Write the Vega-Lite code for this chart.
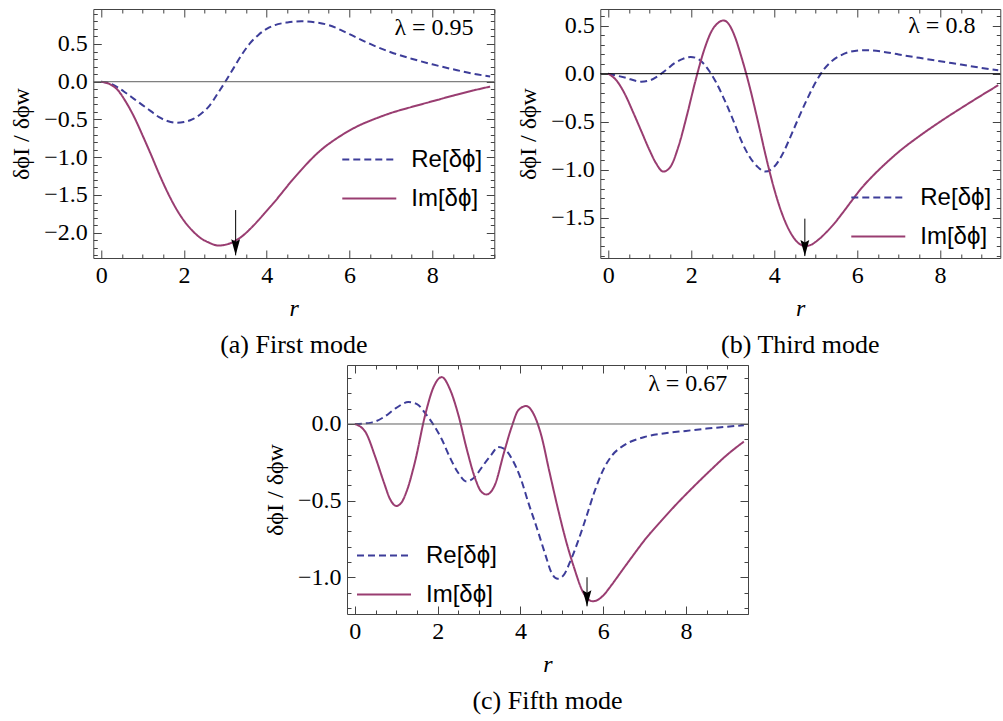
{
"$schema": "https://vega.github.io/schema/vega-lite/v6.json",
"padding": {"left": 9, "top": 1, "right": 0, "bottom": 5},
"config": {
  "font": "Liberation Serif",
  "view": {"stroke": "#444", "strokeWidth": 1},
  "axis": {"domain": false, "grid": false, "tickColor": "#444", "tickWidth": 1, "labelFont": "Liberation Serif", "labelFontSize": 24, "labelColor": "black", "titleFont": "Liberation Serif", "titleFontSize": 24, "titleFontWeight": "normal", "titleColor": "black", "labelOverlap": false, "labelFlush": false},
  "title": {"font": "Liberation Serif", "fontSize": 26, "fontWeight": "normal", "color": "black", "orient": "bottom", "anchor": "middle", "offset": 12},
  "legend": {"orient": "none", "title": null, "symbolType": "stroke", "symbolSize": 2916, "symbolStrokeWidth": 2, "labelFont": "Liberation Sans", "labelFontSize": 24, "labelColor": "black", "labelOffset": 14, "clipHeight": 39, "rowPadding": 0, "padding": 0}
},
"datasets": {
  "a": [
    {"r":0,"v":0,"s":"Re[δϕ]"},{"r":0.2,"v":-0.02,"s":"Re[δϕ]"},{"r":0.4,"v":-0.075,"s":"Re[δϕ]"},{"r":0.6,"v":-0.15,"s":"Re[δϕ]"},{"r":0.8,"v":-0.23,"s":"Re[δϕ]"},{"r":1.0,"v":-0.31,"s":"Re[δϕ]"},{"r":1.2,"v":-0.39,"s":"Re[δϕ]"},{"r":1.4,"v":-0.47,"s":"Re[δϕ]"},{"r":1.6,"v":-0.52,"s":"Re[δϕ]"},{"r":1.82,"v":-0.545,"s":"Re[δϕ]"},{"r":2.0,"v":-0.535,"s":"Re[δϕ]"},{"r":2.2,"v":-0.5,"s":"Re[δϕ]"},{"r":2.4,"v":-0.43,"s":"Re[δϕ]"},{"r":2.6,"v":-0.33,"s":"Re[δϕ]"},{"r":2.8,"v":-0.17,"s":"Re[δϕ]"},{"r":3.0,"v":0.0,"s":"Re[δϕ]"},{"r":3.2,"v":0.18,"s":"Re[δϕ]"},{"r":3.4,"v":0.36,"s":"Re[δϕ]"},{"r":3.6,"v":0.51,"s":"Re[δϕ]"},{"r":3.8,"v":0.62,"s":"Re[δϕ]"},{"r":4.0,"v":0.70,"s":"Re[δϕ]"},{"r":4.2,"v":0.75,"s":"Re[δϕ]"},{"r":4.5,"v":0.785,"s":"Re[δϕ]"},{"r":4.84,"v":0.8,"s":"Re[δϕ]"},{"r":5.2,"v":0.785,"s":"Re[δϕ]"},{"r":5.5,"v":0.75,"s":"Re[δϕ]"},{"r":6.0,"v":0.63,"s":"Re[δϕ]"},{"r":6.5,"v":0.5,"s":"Re[δϕ]"},{"r":7.0,"v":0.39,"s":"Re[δϕ]"},{"r":7.5,"v":0.305,"s":"Re[δϕ]"},{"r":8.0,"v":0.23,"s":"Re[δϕ]"},{"r":8.5,"v":0.165,"s":"Re[δϕ]"},{"r":9.0,"v":0.105,"s":"Re[δϕ]"},{"r":9.4,"v":0.07,"s":"Re[δϕ]"},
    {"r":0,"v":0,"s":"Im[δϕ]"},{"r":0.2,"v":-0.03,"s":"Im[δϕ]"},{"r":0.4,"v":-0.11,"s":"Im[δϕ]"},{"r":0.6,"v":-0.27,"s":"Im[δϕ]"},{"r":0.8,"v":-0.47,"s":"Im[δϕ]"},{"r":1.0,"v":-0.71,"s":"Im[δϕ]"},{"r":1.2,"v":-0.96,"s":"Im[δϕ]"},{"r":1.4,"v":-1.22,"s":"Im[δϕ]"},{"r":1.6,"v":-1.46,"s":"Im[δϕ]"},{"r":1.8,"v":-1.67,"s":"Im[δϕ]"},{"r":2.0,"v":-1.84,"s":"Im[δϕ]"},{"r":2.2,"v":-1.97,"s":"Im[δϕ]"},{"r":2.4,"v":-2.07,"s":"Im[δϕ]"},{"r":2.6,"v":-2.13,"s":"Im[δϕ]"},{"r":2.83,"v":-2.17,"s":"Im[δϕ]"},{"r":3.0,"v":-2.16,"s":"Im[δϕ]"},{"r":3.2,"v":-2.12,"s":"Im[δϕ]"},{"r":3.4,"v":-2.05,"s":"Im[δϕ]"},{"r":3.6,"v":-1.95,"s":"Im[δϕ]"},{"r":3.8,"v":-1.835,"s":"Im[δϕ]"},{"r":4.0,"v":-1.71,"s":"Im[δϕ]"},{"r":4.2,"v":-1.585,"s":"Im[δϕ]"},{"r":4.4,"v":-1.45,"s":"Im[δϕ]"},{"r":4.6,"v":-1.315,"s":"Im[δϕ]"},{"r":4.8,"v":-1.19,"s":"Im[δϕ]"},{"r":5.0,"v":-1.07,"s":"Im[δϕ]"},{"r":5.2,"v":-0.96,"s":"Im[δϕ]"},{"r":5.4,"v":-0.865,"s":"Im[δϕ]"},{"r":5.6,"v":-0.785,"s":"Im[δϕ]"},{"r":5.85,"v":-0.695,"s":"Im[δϕ]"},{"r":6.25,"v":-0.575,"s":"Im[δϕ]"},{"r":6.6,"v":-0.495,"s":"Im[δϕ]"},{"r":7.0,"v":-0.415,"s":"Im[δϕ]"},{"r":7.5,"v":-0.335,"s":"Im[δϕ]"},{"r":8.0,"v":-0.26,"s":"Im[δϕ]"},{"r":8.5,"v":-0.185,"s":"Im[δϕ]"},{"r":9.0,"v":-0.115,"s":"Im[δϕ]"},{"r":9.4,"v":-0.065,"s":"Im[δϕ]"}
  ],
  "b": [
    {"r":0,"v":0,"s":"Re[δϕ]"},{"r":0.4,"v":-0.04,"s":"Re[δϕ]"},{"r":0.8,"v":-0.083,"s":"Re[δϕ]"},{"r":1.0,"v":-0.07,"s":"Re[δϕ]"},{"r":1.2,"v":-0.025,"s":"Re[δϕ]"},{"r":1.4,"v":0.04,"s":"Re[δϕ]"},{"r":1.6,"v":0.11,"s":"Re[δϕ]"},{"r":1.8,"v":0.155,"s":"Re[δϕ]"},{"r":1.99,"v":0.175,"s":"Re[δϕ]"},{"r":2.2,"v":0.145,"s":"Re[δϕ]"},{"r":2.4,"v":0.05,"s":"Re[δϕ]"},{"r":2.6,"v":-0.09,"s":"Re[δϕ]"},{"r":2.8,"v":-0.27,"s":"Re[δϕ]"},{"r":3.0,"v":-0.47,"s":"Re[δϕ]"},{"r":3.2,"v":-0.69,"s":"Re[δϕ]"},{"r":3.4,"v":-0.86,"s":"Re[δϕ]"},{"r":3.6,"v":-0.97,"s":"Re[δϕ]"},{"r":3.78,"v":-1.02,"s":"Re[δϕ]"},{"r":4.0,"v":-0.97,"s":"Re[δϕ]"},{"r":4.2,"v":-0.84,"s":"Re[δϕ]"},{"r":4.4,"v":-0.65,"s":"Re[δϕ]"},{"r":4.6,"v":-0.45,"s":"Re[δϕ]"},{"r":4.8,"v":-0.26,"s":"Re[δϕ]"},{"r":5.0,"v":-0.09,"s":"Re[δϕ]"},{"r":5.2,"v":0.045,"s":"Re[δϕ]"},{"r":5.4,"v":0.135,"s":"Re[δϕ]"},{"r":5.6,"v":0.19,"s":"Re[δϕ]"},{"r":5.8,"v":0.225,"s":"Re[δϕ]"},{"r":6.2,"v":0.245,"s":"Re[δϕ]"},{"r":6.6,"v":0.23,"s":"Re[δϕ]"},{"r":7.0,"v":0.2,"s":"Re[δϕ]"},{"r":7.5,"v":0.165,"s":"Re[δϕ]"},{"r":8.0,"v":0.13,"s":"Re[δϕ]"},{"r":8.5,"v":0.095,"s":"Re[δϕ]"},{"r":9.0,"v":0.06,"s":"Re[δϕ]"},{"r":9.4,"v":0.035,"s":"Re[δϕ]"},
    {"r":0,"v":0,"s":"Im[δϕ]"},{"r":0.2,"v":-0.07,"s":"Im[δϕ]"},{"r":0.4,"v":-0.21,"s":"Im[δϕ]"},{"r":0.6,"v":-0.4,"s":"Im[δϕ]"},{"r":0.8,"v":-0.6,"s":"Im[δϕ]"},{"r":1.0,"v":-0.8,"s":"Im[δϕ]"},{"r":1.15,"v":-0.93,"s":"Im[δϕ]"},{"r":1.33,"v":-1.02,"s":"Im[δϕ]"},{"r":1.5,"v":-0.97,"s":"Im[δϕ]"},{"r":1.7,"v":-0.75,"s":"Im[δϕ]"},{"r":1.9,"v":-0.43,"s":"Im[δϕ]"},{"r":2.1,"v":-0.08,"s":"Im[δϕ]"},{"r":2.3,"v":0.23,"s":"Im[δϕ]"},{"r":2.5,"v":0.45,"s":"Im[δϕ]"},{"r":2.65,"v":0.53,"s":"Im[δϕ]"},{"r":2.78,"v":0.555,"s":"Im[δϕ]"},{"r":2.9,"v":0.52,"s":"Im[δϕ]"},{"r":3.05,"v":0.39,"s":"Im[δϕ]"},{"r":3.2,"v":0.19,"s":"Im[δϕ]"},{"r":3.4,"v":-0.12,"s":"Im[δϕ]"},{"r":3.6,"v":-0.48,"s":"Im[δϕ]"},{"r":3.8,"v":-0.86,"s":"Im[δϕ]"},{"r":4.0,"v":-1.2,"s":"Im[δϕ]"},{"r":4.2,"v":-1.47,"s":"Im[δϕ]"},{"r":4.4,"v":-1.66,"s":"Im[δϕ]"},{"r":4.6,"v":-1.77,"s":"Im[δϕ]"},{"r":4.76,"v":-1.795,"s":"Im[δϕ]"},{"r":4.9,"v":-1.78,"s":"Im[δϕ]"},{"r":5.05,"v":-1.735,"s":"Im[δϕ]"},{"r":5.25,"v":-1.655,"s":"Im[δϕ]"},{"r":5.45,"v":-1.56,"s":"Im[δϕ]"},{"r":5.65,"v":-1.45,"s":"Im[δϕ]"},{"r":5.85,"v":-1.335,"s":"Im[δϕ]"},{"r":6.1,"v":-1.195,"s":"Im[δϕ]"},{"r":6.4,"v":-1.055,"s":"Im[δϕ]"},{"r":6.7,"v":-0.93,"s":"Im[δϕ]"},{"r":7.0,"v":-0.815,"s":"Im[δϕ]"},{"r":7.5,"v":-0.65,"s":"Im[δϕ]"},{"r":8.0,"v":-0.5,"s":"Im[δϕ]"},{"r":8.5,"v":-0.36,"s":"Im[δϕ]"},{"r":9.0,"v":-0.225,"s":"Im[δϕ]"},{"r":9.4,"v":-0.12,"s":"Im[δϕ]"}
  ],
  "c": [
    {"r":0,"v":0,"s":"Re[δϕ]"},{"r":0.4,"v":0.009,"s":"Re[δϕ]"},{"r":0.7,"v":0.045,"s":"Re[δϕ]"},{"r":1.0,"v":0.105,"s":"Re[δϕ]"},{"r":1.29,"v":0.143,"s":"Re[δϕ]"},{"r":1.5,"v":0.13,"s":"Re[δϕ]"},{"r":1.7,"v":0.07,"s":"Re[δϕ]"},{"r":1.9,"v":-0.005,"s":"Re[δϕ]"},{"r":2.1,"v":-0.1,"s":"Re[δϕ]"},{"r":2.3,"v":-0.22,"s":"Re[δϕ]"},{"r":2.5,"v":-0.32,"s":"Re[δϕ]"},{"r":2.7,"v":-0.375,"s":"Re[δϕ]"},{"r":2.9,"v":-0.345,"s":"Re[δϕ]"},{"r":3.1,"v":-0.27,"s":"Re[δϕ]"},{"r":3.3,"v":-0.2,"s":"Re[δϕ]"},{"r":3.46,"v":-0.15,"s":"Re[δϕ]"},{"r":3.6,"v":-0.16,"s":"Re[δϕ]"},{"r":3.8,"v":-0.23,"s":"Re[δϕ]"},{"r":4.0,"v":-0.35,"s":"Re[δϕ]"},{"r":4.2,"v":-0.52,"s":"Re[δϕ]"},{"r":4.4,"v":-0.68,"s":"Re[δϕ]"},{"r":4.6,"v":-0.85,"s":"Re[δϕ]"},{"r":4.75,"v":-0.97,"s":"Re[δϕ]"},{"r":4.9,"v":-1.01,"s":"Re[δϕ]"},{"r":5.05,"v":-0.985,"s":"Re[δϕ]"},{"r":5.2,"v":-0.9,"s":"Re[δϕ]"},{"r":5.4,"v":-0.76,"s":"Re[δϕ]"},{"r":5.6,"v":-0.6,"s":"Re[δϕ]"},{"r":5.8,"v":-0.435,"s":"Re[δϕ]"},{"r":6.0,"v":-0.3,"s":"Re[δϕ]"},{"r":6.2,"v":-0.21,"s":"Re[δϕ]"},{"r":6.5,"v":-0.14,"s":"Re[δϕ]"},{"r":7.0,"v":-0.085,"s":"Re[δϕ]"},{"r":7.5,"v":-0.06,"s":"Re[δϕ]"},{"r":8.0,"v":-0.045,"s":"Re[δϕ]"},{"r":8.5,"v":-0.03,"s":"Re[δϕ]"},{"r":9.0,"v":-0.018,"s":"Re[δϕ]"},{"r":9.4,"v":-0.008,"s":"Re[δϕ]"},
    {"r":0,"v":0,"s":"Im[δϕ]"},{"r":0.25,"v":-0.05,"s":"Im[δϕ]"},{"r":0.5,"v":-0.22,"s":"Im[δϕ]"},{"r":0.7,"v":-0.38,"s":"Im[δϕ]"},{"r":0.85,"v":-0.49,"s":"Im[δϕ]"},{"r":1.0,"v":-0.535,"s":"Im[δϕ]"},{"r":1.12,"v":-0.515,"s":"Im[δϕ]"},{"r":1.25,"v":-0.44,"s":"Im[δϕ]"},{"r":1.45,"v":-0.25,"s":"Im[δϕ]"},{"r":1.7,"v":0.06,"s":"Im[δϕ]"},{"r":1.9,"v":0.24,"s":"Im[δϕ]"},{"r":2.1,"v":0.306,"s":"Im[δϕ]"},{"r":2.3,"v":0.225,"s":"Im[δϕ]"},{"r":2.5,"v":0.06,"s":"Im[δϕ]"},{"r":2.7,"v":-0.16,"s":"Im[δϕ]"},{"r":2.9,"v":-0.35,"s":"Im[δϕ]"},{"r":3.05,"v":-0.44,"s":"Im[δϕ]"},{"r":3.18,"v":-0.46,"s":"Im[δϕ]"},{"r":3.38,"v":-0.4,"s":"Im[δϕ]"},{"r":3.6,"v":-0.19,"s":"Im[δϕ]"},{"r":3.8,"v":-0.01,"s":"Im[δϕ]"},{"r":3.95,"v":0.09,"s":"Im[δϕ]"},{"r":4.14,"v":0.117,"s":"Im[δϕ]"},{"r":4.3,"v":0.075,"s":"Im[δϕ]"},{"r":4.5,"v":-0.07,"s":"Im[δϕ]"},{"r":4.7,"v":-0.31,"s":"Im[δϕ]"},{"r":4.9,"v":-0.545,"s":"Im[δϕ]"},{"r":5.1,"v":-0.76,"s":"Im[δϕ]"},{"r":5.3,"v":-0.94,"s":"Im[δϕ]"},{"r":5.5,"v":-1.09,"s":"Im[δϕ]"},{"r":5.75,"v":-1.157,"s":"Im[δϕ]"},{"r":6.0,"v":-1.12,"s":"Im[δϕ]"},{"r":6.15,"v":-1.07,"s":"Im[δϕ]"},{"r":6.3,"v":-1.015,"s":"Im[δϕ]"},{"r":6.5,"v":-0.94,"s":"Im[δϕ]"},{"r":6.75,"v":-0.848,"s":"Im[δϕ]"},{"r":7.0,"v":-0.758,"s":"Im[δϕ]"},{"r":7.4,"v":-0.633,"s":"Im[δϕ]"},{"r":7.8,"v":-0.515,"s":"Im[δϕ]"},{"r":8.2,"v":-0.405,"s":"Im[δϕ]"},{"r":8.6,"v":-0.3,"s":"Im[δϕ]"},{"r":9.0,"v":-0.2,"s":"Im[δϕ]"},{"r":9.4,"v":-0.115,"s":"Im[δϕ]"}
  ]
},
"vconcat": [
 {"hconcat": [
  {
   "width": 401, "height": 249,
   "title": {"text": "(a) First mode"},
   "layer": [
    {"data": {"name": "a"},
     "mark": {"type": "line", "strokeWidth": 2, "interpolate": "monotone"},
     "encoding": {
      "x": {"field": "r", "type": "quantitative", "scale": {"domain": [-0.19, 9.5], "nice": false, "zero": false},
            "axis": {"orient": "bottom", "title": "r", "titleFontStyle": "italic", "titlePadding": 5, "values": [0,0.5,1,1.5,2,2.5,3,3.5,4,4.5,5,5.5,6,6.5,7,7.5,8,8.5,9,9.5], "labelExpr": "datum.value % 2 === 0 ? format(datum.value, 'd') : ''", "tickSize": {"condition": {"test": "datum.value % 2 === 0", "value": -8}, "value": -4}, "labelPadding": 13}},
      "y": {"field": "v", "type": "quantitative", "scale": {"domain": [-2.335, 0.963], "nice": false, "zero": false},
            "axis": {"orient": "left", "title": "δϕI / δϕw", "titlePadding": 10, "values": [-2.3,-2.2,-2.1,-2,-1.9,-1.8,-1.7,-1.6,-1.5,-1.4,-1.3,-1.2,-1.1,-1,-0.9,-0.8,-0.7,-0.6,-0.5,-0.4,-0.3,-0.2,-0.1,0,0.1,0.2,0.3,0.4,0.5,0.6,0.7,0.8,0.9], "format": ".1f", "labelExpr": "abs(round(datum.value*10)) % 5 === 0 ? datum.label : ''", "tickSize": {"condition": {"test": "abs(round(datum.value*10)) % 5 === 0", "value": -8}, "value": -4}, "labelPadding": 14}},
      "color": {"field": "s", "type": "nominal", "scale": {"domain": ["Re[δϕ]", "Im[δϕ]"], "range": ["#3d3d99", "#993d71"]}, "legend": {"legendX": 248, "legendY": 131}},
      "strokeDash": {"field": "s", "type": "nominal", "scale": {"domain": ["Re[δϕ]", "Im[δϕ]"], "range": [[7, 4], [1, 0]]}, "legend": {"legendX": 248, "legendY": 131}}
     }},
    {"data": {"values": [{"v": 0}]},
     "mark": {"type": "rule", "color": "#606060", "strokeWidth": 1},
     "encoding": {"y": {"field": "v", "type": "quantitative", "scale": {"domain": [-2.335, 0.963], "nice": false, "zero": false},
        "axis": {"orient": "right", "title": null, "labels": false, "values": [-2.3,-2.2,-2.1,-2,-1.9,-1.8,-1.7,-1.6,-1.5,-1.4,-1.3,-1.2,-1.1,-1,-0.9,-0.8,-0.7,-0.6,-0.5,-0.4,-0.3,-0.2,-0.1,0,0.1,0.2,0.3,0.4,0.5,0.6,0.7,0.8,0.9], "tickSize": {"condition": {"test": "abs(round(datum.value*10)) % 5 === 0", "value": -8}, "value": -4}}}}},
    {"data": {"values": [{"r": 3.25, "y1": -1.7, "y2": -2.3}]},
     "mark": {"type": "rule", "color": "black", "strokeWidth": 1},
     "encoding": {
      "x": {"field": "r", "type": "quantitative", "scale": {"domain": [-0.19, 9.5], "nice": false, "zero": false},
            "axis": {"orient": "top", "title": null, "labels": false, "values": [0,0.5,1,1.5,2,2.5,3,3.5,4,4.5,5,5.5,6,6.5,7,7.5,8,8.5,9,9.5], "tickSize": {"condition": {"test": "datum.value % 2 === 0", "value": -8}, "value": -4}}},
      "y": {"field": "y1", "type": "quantitative", "scale": {"domain": [-2.335, 0.963], "nice": false, "zero": false}, "axis": null},
      "y2": {"field": "y2"}
     }},
    {"data": {"values": [{"r": 3.25, "y2": -2.3}]},
     "mark": {"type": "point", "shape": "M0,1L-0.55,-1L0,-0.7L0.55,-1Z", "size": 256, "filled": true, "color": "black", "opacity": 1, "yOffset": -8},
     "encoding": {
      "x": {"field": "r", "type": "quantitative", "scale": {"domain": [-0.19, 9.5], "nice": false, "zero": false}, "axis": null},
      "y": {"field": "y2", "type": "quantitative", "scale": {"domain": [-2.335, 0.963], "nice": false, "zero": false}, "axis": null}
     }},
    {"data": {"values": [{"r": 9.0, "v": 0.62, "t": "λ = 0.95"}]},
     "mark": {"type": "text", "align": "right", "baseline": "alphabetic", "font": "Liberation Serif", "fontSize": 24, "color": "black"},
     "encoding": {
      "x": {"field": "r", "type": "quantitative", "scale": {"domain": [-0.19, 9.5], "nice": false, "zero": false}, "axis": null},
      "y": {"field": "v", "type": "quantitative", "scale": {"domain": [-2.335, 0.963], "nice": false, "zero": false}, "axis": null},
      "text": {"field": "t"}
     }}
   ],
   "resolve": {"axis": {"x": "independent", "y": "independent"}}
  },
  {
   "width": 400, "height": 249,
   "title": {"text": "(b) Third mode"},
   "layer": [
    {"data": {"name": "b"},
     "mark": {"type": "line", "strokeWidth": 2, "interpolate": "monotone"},
     "encoding": {
      "x": {"field": "r", "type": "quantitative", "scale": {"domain": [-0.19, 9.45], "nice": false, "zero": false},
            "axis": {"orient": "bottom", "title": "r", "titleFontStyle": "italic", "titlePadding": 5, "values": [0,0.5,1,1.5,2,2.5,3,3.5,4,4.5,5,5.5,6,6.5,7,7.5,8,8.5,9], "labelExpr": "datum.value % 2 === 0 ? format(datum.value, 'd') : ''", "tickSize": {"condition": {"test": "datum.value % 2 === 0", "value": -8}, "value": -4}, "labelPadding": 13}},
      "y": {"field": "v", "type": "quantitative", "scale": {"domain": [-1.92, 0.674], "nice": false, "zero": false},
            "axis": {"orient": "left", "title": "δϕI / δϕw", "titlePadding": 10, "values": [-1.9,-1.8,-1.7,-1.6,-1.5,-1.4,-1.3,-1.2,-1.1,-1,-0.9,-0.8,-0.7,-0.6,-0.5,-0.4,-0.3,-0.2,-0.1,0,0.1,0.2,0.3,0.4,0.5,0.6], "format": ".1f", "labelExpr": "abs(round(datum.value*10)) % 5 === 0 ? datum.label : ''", "tickSize": {"condition": {"test": "abs(round(datum.value*10)) % 5 === 0", "value": -8}, "value": -4}, "labelPadding": 14}},
      "color": {"field": "s", "type": "nominal", "scale": {"domain": ["Re[δϕ]", "Im[δϕ]"], "range": ["#3d3d99", "#993d71"]}, "legend": {"legendX": 250, "legendY": 169}},
      "strokeDash": {"field": "s", "type": "nominal", "scale": {"domain": ["Re[δϕ]", "Im[δϕ]"], "range": [[7, 4], [1, 0]]}, "legend": {"legendX": 250, "legendY": 169}}
     }},
    {"data": {"values": [{"v": 0}]},
     "mark": {"type": "rule", "color": "black", "strokeWidth": 1},
     "encoding": {"y": {"field": "v", "type": "quantitative", "scale": {"domain": [-1.92, 0.674], "nice": false, "zero": false},
        "axis": {"orient": "right", "title": null, "labels": false, "values": [-1.9,-1.8,-1.7,-1.6,-1.5,-1.4,-1.3,-1.2,-1.1,-1,-0.9,-0.8,-0.7,-0.6,-0.5,-0.4,-0.3,-0.2,-0.1,0,0.1,0.2,0.3,0.4,0.5,0.6], "tickSize": {"condition": {"test": "abs(round(datum.value*10)) % 5 === 0", "value": -8}, "value": -4}}}}},
    {"data": {"values": [{"r": 4.74, "y1": -1.51, "y2": -1.9}]},
     "mark": {"type": "rule", "color": "black", "strokeWidth": 1},
     "encoding": {
      "x": {"field": "r", "type": "quantitative", "scale": {"domain": [-0.19, 9.45], "nice": false, "zero": false},
            "axis": {"orient": "top", "title": null, "labels": false, "values": [0,0.5,1,1.5,2,2.5,3,3.5,4,4.5,5,5.5,6,6.5,7,7.5,8,8.5,9], "tickSize": {"condition": {"test": "datum.value % 2 === 0", "value": -8}, "value": -4}}},
      "y": {"field": "y1", "type": "quantitative", "scale": {"domain": [-1.92, 0.674], "nice": false, "zero": false}, "axis": null},
      "y2": {"field": "y2"}
     }},
    {"data": {"values": [{"r": 4.74, "y2": -1.9}]},
     "mark": {"type": "point", "shape": "M0,1L-0.55,-1L0,-0.7L0.55,-1Z", "size": 256, "filled": true, "color": "black", "opacity": 1, "yOffset": -8},
     "encoding": {
      "x": {"field": "r", "type": "quantitative", "scale": {"domain": [-0.19, 9.45], "nice": false, "zero": false}, "axis": null},
      "y": {"field": "y2", "type": "quantitative", "scale": {"domain": [-1.92, 0.674], "nice": false, "zero": false}, "axis": null}
     }},
    {"data": {"values": [{"r": 8.85, "v": 0.427, "t": "λ = 0.8"}]},
     "mark": {"type": "text", "align": "right", "baseline": "alphabetic", "font": "Liberation Serif", "fontSize": 24, "color": "black"},
     "encoding": {
      "x": {"field": "r", "type": "quantitative", "scale": {"domain": [-0.19, 9.45], "nice": false, "zero": false}, "axis": null},
      "y": {"field": "v", "type": "quantitative", "scale": {"domain": [-1.92, 0.674], "nice": false, "zero": false}, "axis": null},
      "text": {"field": "t"}
     }}
   ],
   "resolve": {"axis": {"x": "independent", "y": "independent"}}
  }
 ], "spacing": 106, "bounds": "flush",
 "resolve": {"scale": {"color": "independent", "strokeDash": "independent"}, "legend": {"color": "independent", "strokeDash": "independent"}}},
 {
   "width": 401, "height": 249,
   "title": {"text": "(c) Fifth mode"},
   "layer": [
    {"data": {"name": "c"},
     "mark": {"type": "line", "strokeWidth": 2, "interpolate": "monotone"},
     "encoding": {
      "x": {"field": "r", "type": "quantitative", "scale": {"domain": [-0.19, 9.5], "nice": false, "zero": false},
            "axis": {"orient": "bottom", "title": "r", "titleFontStyle": "italic", "titlePadding": 5, "values": [0,0.5,1,1.5,2,2.5,3,3.5,4,4.5,5,5.5,6,6.5,7,7.5,8,8.5,9,9.5], "labelExpr": "datum.value % 2 === 0 ? format(datum.value, 'd') : ''", "tickSize": {"condition": {"test": "datum.value % 2 === 0", "value": -8}, "value": -4}, "labelPadding": 13}},
      "y": {"field": "v", "type": "quantitative", "scale": {"domain": [-1.24, 0.385], "nice": false, "zero": false},
            "axis": {"orient": "left", "title": "δϕI / δϕw", "titlePadding": 10, "values": [-1.2,-1.1,-1,-0.9,-0.8,-0.7,-0.6,-0.5,-0.4,-0.3,-0.2,-0.1,0,0.1,0.2,0.3], "format": ".1f", "labelExpr": "abs(round(datum.value*10)) % 5 === 0 ? datum.label : ''", "tickSize": {"condition": {"test": "abs(round(datum.value*10)) % 5 === 0", "value": -8}, "value": -4}, "labelPadding": 14}},
      "color": {"field": "s", "type": "nominal", "scale": {"domain": ["Re[δϕ]", "Im[δϕ]"], "range": ["#3d3d99", "#993d71"]}, "legend": {"legendX": 9, "legendY": 171}},
      "strokeDash": {"field": "s", "type": "nominal", "scale": {"domain": ["Re[δϕ]", "Im[δϕ]"], "range": [[7, 4], [1, 0]]}, "legend": {"legendX": 9, "legendY": 171}}
     }},
    {"data": {"values": [{"v": 0}]},
     "mark": {"type": "rule", "color": "#606060", "strokeWidth": 1},
     "encoding": {"y": {"field": "v", "type": "quantitative", "scale": {"domain": [-1.24, 0.385], "nice": false, "zero": false},
        "axis": {"orient": "right", "title": null, "labels": false, "values": [-1.2,-1.1,-1,-0.9,-0.8,-0.7,-0.6,-0.5,-0.4,-0.3,-0.2,-0.1,0,0.1,0.2,0.3], "tickSize": {"condition": {"test": "abs(round(datum.value*10)) % 5 === 0", "value": -8}, "value": -4}}}}},
    {"data": {"values": [{"r": 5.61, "y1": -1.0, "y2": -1.19}]},
     "mark": {"type": "rule", "color": "black", "strokeWidth": 1},
     "encoding": {
      "x": {"field": "r", "type": "quantitative", "scale": {"domain": [-0.19, 9.5], "nice": false, "zero": false},
            "axis": {"orient": "top", "title": null, "labels": false, "values": [0,0.5,1,1.5,2,2.5,3,3.5,4,4.5,5,5.5,6,6.5,7,7.5,8,8.5,9,9.5], "tickSize": {"condition": {"test": "datum.value % 2 === 0", "value": -8}, "value": -4}}},
      "y": {"field": "y1", "type": "quantitative", "scale": {"domain": [-1.24, 0.385], "nice": false, "zero": false}, "axis": null},
      "y2": {"field": "y2"}
     }},
    {"data": {"values": [{"r": 5.61, "y2": -1.19}]},
     "mark": {"type": "point", "shape": "M0,1L-0.55,-1L0,-0.7L0.55,-1Z", "size": 256, "filled": true, "color": "black", "opacity": 1, "yOffset": -8},
     "encoding": {
      "x": {"field": "r", "type": "quantitative", "scale": {"domain": [-0.19, 9.5], "nice": false, "zero": false}, "axis": null},
      "y": {"field": "y2", "type": "quantitative", "scale": {"domain": [-1.24, 0.385], "nice": false, "zero": false}, "axis": null}
     }},
    {"data": {"values": [{"r": 9.0, "v": 0.215, "t": "λ = 0.67"}]},
     "mark": {"type": "text", "align": "right", "baseline": "alphabetic", "font": "Liberation Serif", "fontSize": 24, "color": "black"},
     "encoding": {
      "x": {"field": "r", "type": "quantitative", "scale": {"domain": [-0.19, 9.5], "nice": false, "zero": false}, "axis": null},
      "y": {"field": "v", "type": "quantitative", "scale": {"domain": [-1.24, 0.385], "nice": false, "zero": false}, "axis": null},
      "text": {"field": "t"}
     }}
   ],
   "resolve": {"axis": {"x": "independent", "y": "independent"}}
 }
],
"spacing": 5,
"center": true,
"resolve": {"scale": {"color": "independent", "strokeDash": "independent"}, "legend": {"color": "independent", "strokeDash": "independent"}}
}
